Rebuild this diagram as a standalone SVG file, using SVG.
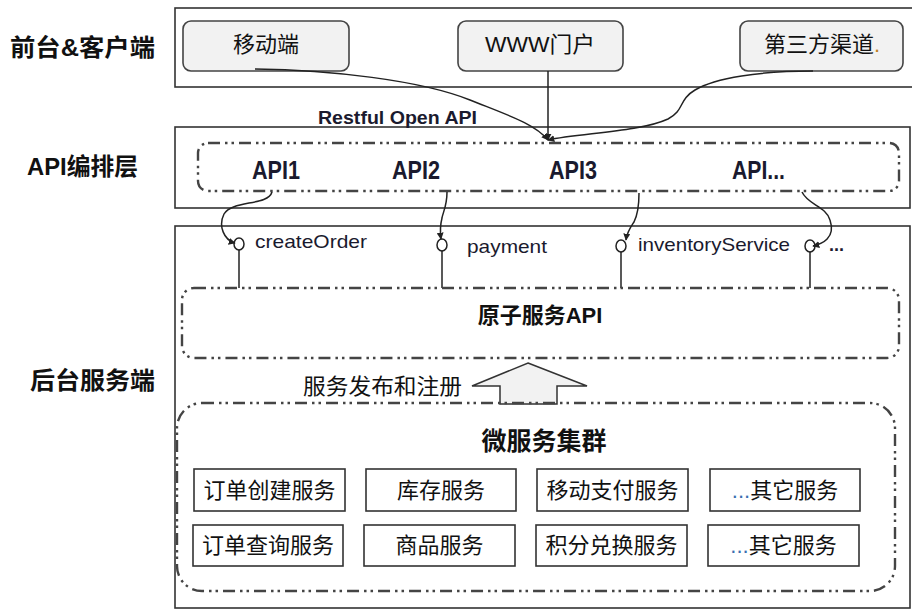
<svg xmlns="http://www.w3.org/2000/svg" width="912" height="610" viewBox="0 0 912 610">
<style>
.frame{fill:none;stroke:#333;stroke-width:1.6}
.node{fill:#f2f2f2;stroke:#444;stroke-width:1.6}
.svc{fill:#fff;stroke:#333;stroke-width:1.6}
.dash{fill:none;stroke:#444;stroke-width:2.4;stroke-dasharray:12 5 2.5 4 2.5 5}
.cn{font-family:"Liberation Sans","Noto Sans CJK SC",sans-serif;fill:#111}
.b{font-weight:bold}
.lat{font-family:"Liberation Sans","Noto Sans CJK SC",sans-serif;fill:#1a1a2e}
.conn{fill:none;stroke:#222;stroke-width:1.5}
.pin{fill:none;stroke:#222;stroke-width:1.5}
</style>
<defs>
<marker id="arr" viewBox="0 0 10 10" refX="9" refY="5" markerWidth="7" markerHeight="7" orient="auto-start-reverse" markerUnits="userSpaceOnUse">
<path d="M0,0 L10,5 L0,10 z" fill="#222"/>
</marker>
</defs>
<rect width="912" height="610" fill="#fff"/>

<g id="layers">
<rect class="frame" x="175" y="8" width="740" height="79"/>
<rect class="frame" x="175" y="127" width="735" height="81"/>
<rect class="frame" x="175" y="226" width="735" height="382"/>
<text class="cn b" x="10" y="56" font-size="24" textLength="145" lengthAdjust="spacingAndGlyphs">前台&amp;客户端</text>
<text class="cn b" x="27" y="175" font-size="24" textLength="111" lengthAdjust="spacingAndGlyphs">API编排层</text>
<text class="cn b" x="30" y="389" font-size="24" textLength="125" lengthAdjust="spacingAndGlyphs">后台服务端</text>
</g>

<g id="mobile">
<rect class="node" x="183" y="21" width="166" height="50" rx="8"/>
<text class="cn" x="266" y="52" font-size="22" text-anchor="middle">移动端</text>
</g>
<g id="www">
<rect class="node" x="458" y="21" width="165" height="50" rx="8"/>
<text class="cn" x="540" y="52" font-size="22" text-anchor="middle" textLength="110" lengthAdjust="spacingAndGlyphs">WWW门户</text>
</g>
<g id="third">
<rect class="node" x="740" y="21" width="163" height="50" rx="8"/>
<text class="cn" x="822" y="52" font-size="22" text-anchor="middle">第三方渠道<tspan fill="#c08020">.</tspan></text>
</g>

<text class="lat b" x="318" y="124" font-size="19" textLength="159" lengthAdjust="spacingAndGlyphs">Restful Open API</text>

<g id="api-layer">
<rect class="dash" x="198" y="143" width="701" height="48" rx="10"/>
<text class="lat b" x="252" y="179" font-size="25" textLength="48" lengthAdjust="spacingAndGlyphs">API1</text>
<text class="lat b" x="392" y="179" font-size="25" textLength="48" lengthAdjust="spacingAndGlyphs">API2</text>
<text class="lat b" x="549" y="179" font-size="25" textLength="48" lengthAdjust="spacingAndGlyphs">API3</text>
<text class="lat b" x="732" y="179" font-size="25" textLength="53" lengthAdjust="spacingAndGlyphs">API...</text>
</g>

<g id="connectors">
<path class="conn" d="M255,69 C330,70 420,80 470,100 C510,116 535,124 548,140" marker-end="url(#arr)"/>
<path class="conn" d="M548,71 L548,140" marker-end="url(#arr)"/>
<path class="conn" d="M813,71 C760,71 715,78 695,90 C678,100 685,110 668,119 C640,132 580,133 548,140" marker-end="url(#arr)"/>
<path class="conn" d="M272,192 C268,206 232,200 224,214 C218,226 224,240 235,243" marker-end="url(#arr)"/>
<path class="conn" d="M447,192 C447,206 443,212 442,218 C440,226 440,232 441,239" marker-end="url(#arr)"/>
<path class="conn" d="M639,193 C639,206 638,214 634,222 C630,228 627,232 626,240" marker-end="url(#arr)"/>
<path class="conn" d="M802,192 C808,205 826,206 830,220 C836,238 822,244 813,246" marker-end="url(#arr)"/>
<line class="conn" x1="239" y1="250" x2="239" y2="288"/>
<line class="conn" x1="442" y1="251" x2="442" y2="288"/>
<line class="conn" x1="621" y1="252" x2="621" y2="288"/>
<line class="conn" x1="810" y1="252" x2="810" y2="288"/>
</g>

<g id="createOrder">
<ellipse class="pin" cx="239" cy="244" rx="5" ry="6"/>
<text class="lat" x="255" y="248" font-size="19" textLength="112" lengthAdjust="spacingAndGlyphs">createOrder</text>
</g>
<g id="payment">
<ellipse class="pin" cx="442" cy="245" rx="5" ry="6"/>
<text class="lat" x="467" y="253" font-size="19" textLength="80" lengthAdjust="spacingAndGlyphs">payment</text>
</g>
<g id="inventoryService">
<ellipse class="pin" cx="621" cy="246" rx="5" ry="6"/>
<text class="lat" x="638" y="251" font-size="19" textLength="152" lengthAdjust="spacingAndGlyphs">inventoryService</text>
</g>
<g id="more">
<ellipse class="pin" cx="810" cy="246" rx="5" ry="6"/>
<text class="lat b" x="829" y="251" font-size="19" textLength="15" lengthAdjust="spacingAndGlyphs">...</text>
</g>

<g id="atomic">
<rect class="dash" x="182" y="288" width="717" height="70" rx="12"/>
<text class="cn b" x="540" y="323" font-size="22" text-anchor="middle">原子服务API</text>
</g>

<g id="publish">
<polygon points="528,363 587,386 557,386 557,404 500,404 500,386 472,386" fill="#f2f2f2" stroke="#333" stroke-width="1.5"/>
<text class="cn" x="303" y="394" font-size="22" textLength="159" lengthAdjust="spacingAndGlyphs">服务发布和注册</text>
</g>

<g id="cluster">
<rect class="dash" x="177" y="403" width="718" height="188" rx="25"/>
<text class="cn b" x="544" y="450" font-size="25" text-anchor="middle">微服务集群</text>
</g>

<g id="svc1"><rect class="svc" x="194" y="469" width="151" height="42"/><text class="cn" x="269.5" y="498" font-size="22" text-anchor="middle">订单创建服务</text></g>
<g id="svc2"><rect class="svc" x="366" y="469" width="150" height="42"/><text class="cn" x="441" y="498" font-size="22" text-anchor="middle">库存服务</text></g>
<g id="svc3"><rect class="svc" x="537" y="469" width="151" height="42"/><text class="cn" x="612.5" y="498" font-size="22" text-anchor="middle">移动支付服务</text></g>
<g id="svc4"><rect class="svc" x="710" y="469" width="150" height="42"/><text class="cn" x="785" y="498" font-size="22" text-anchor="middle"><tspan fill="#3a6fb0">...</tspan>其它服务</text></g>
<g id="svc5"><rect class="svc" x="193" y="525" width="150" height="41"/><text class="cn" x="268" y="553" font-size="22" text-anchor="middle">订单查询服务</text></g>
<g id="svc6"><rect class="svc" x="364" y="525" width="151" height="41"/><text class="cn" x="439.5" y="553" font-size="22" text-anchor="middle">商品服务</text></g>
<g id="svc7"><rect class="svc" x="536" y="525" width="151" height="41"/><text class="cn" x="611.5" y="553" font-size="22" text-anchor="middle">积分兑换服务</text></g>
<g id="svc8"><rect class="svc" x="708" y="525" width="151" height="41"/><text class="cn" x="783.5" y="553" font-size="22" text-anchor="middle"><tspan fill="#3a6fb0">...</tspan>其它服务</text></g>
</svg>
